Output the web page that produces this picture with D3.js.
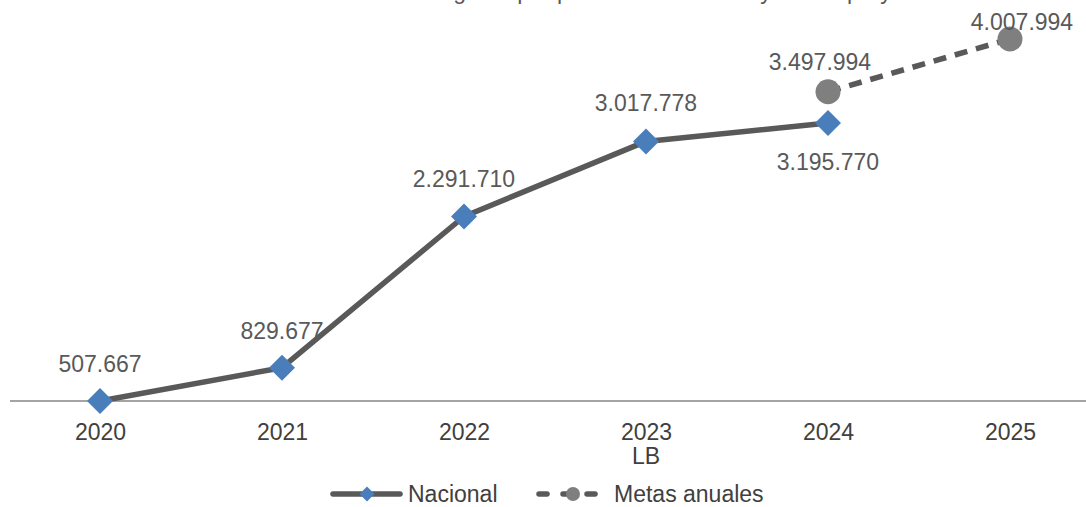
<!DOCTYPE html>
<html>
<head>
<meta charset="utf-8">
<script src="https://cdn.jsdelivr.net/npm/d3@7"></script>
<style>
  html, body { margin: 0; padding: 0; background: #fff; }
  svg { display: block; font-family: "Liberation Sans", Arial, sans-serif; }
</style>
</head>
<body>
<svg id="chart" width="1086" height="507"></svg>
<script>
const categories = ["2020", "2021", "2022", "2023", "2024", "2025"];
const subLabels = ["", "", "", "LB", "", ""];
const nacional = [507667, 829677, 2291710, 3017778, 3195770, null];
const metas = [null, null, null, null, 3497994, 4007994];
const titleText = "Número de hogares por período: línea base y metas proyectadas";

const W = 1086, H = 507;
const svg = d3.select("#chart");
const fmt = v => d3.format(",")(v).replace(/,/g, ".");

const x = d3.scalePoint().domain(categories).range([100, 1010]);
const y = d3.scaleLinear().domain([507667, 4007994]).range([401, 39]);

// clipped title
svg.append("text").attr("x", 640).attr("y", -1).attr("text-anchor", "middle")
  .attr("font-size", 23).attr("fill", "#595959").text(titleText);

// axis line
svg.append("line").attr("x1", 10).attr("x2", W).attr("y1", 401).attr("y2", 401)
  .attr("stroke", "#868686").attr("stroke-width", 1.5);

// x tick labels
const xAxis = d3.axisBottom(x).tickSize(0).tickPadding(0);
const gx = svg.append("g").attr("transform", "translate(0,0)").call(xAxis);
gx.select(".domain").remove();
gx.selectAll("text").attr("y", 440).attr("dy", null).attr("font-size", 23)
  .attr("fill", "#404040").attr("font-family", "Liberation Sans, Arial, sans-serif");
svg.selectAll(".sublab").data(categories.map((c, i) => [c, subLabels[i]]).filter(d => d[1]))
  .enter().append("text").attr("x", d => x(d[0])).attr("y", 464)
  .attr("text-anchor", "middle").attr("font-size", 23).attr("fill", "#404040").text(d => d[1]);

// lines
const nacData = categories.map((c, i) => ({c, v: nacional[i]})).filter(d => d.v != null);
const metData = categories.map((c, i) => ({c, v: metas[i]})).filter(d => d.v != null);
const line = d3.line().x(d => x(d.c)).y(d => y(d.v));

svg.append("path").datum(nacData).attr("d", line).attr("fill", "none")
  .attr("stroke", "#595959").attr("stroke-width", 5.5).attr("stroke-linejoin", "round");
svg.append("path").datum(metData).attr("d", line).attr("fill", "none")
  .attr("stroke", "#595959").attr("stroke-width", 5.5).attr("stroke-dasharray", "13,9");

// markers
const diamond = (cx, cy, r) => `M${cx},${cy - r}L${cx + r},${cy}L${cx},${cy + r}L${cx - r},${cy}Z`;
svg.selectAll(".dm").data(nacData).enter().append("path")
  .attr("d", d => diamond(x(d.c), y(d.v), 13)).attr("fill", "#4A7EBB");
svg.selectAll(".ci").data(metData).enter().append("circle")
  .attr("cx", d => x(d.c)).attr("cy", d => y(d.v)).attr("r", 12.5).attr("fill", "#7F7F7F");

// labels
const nacOffsets = [[0, -29], [0, -29], [0, -29], [0, -30], [0, 47]];
svg.selectAll(".nl").data(nacData).enter().append("text")
  .attr("x", (d, i) => x(d.c) + nacOffsets[i][0]).attr("y", (d, i) => y(d.v) + nacOffsets[i][1])
  .attr("text-anchor", "middle").attr("font-size", 23).attr("fill", "#595959").text(d => fmt(d.v));
const metOffsets = [[-8, -22], [12, -9]];
svg.selectAll(".ml").data(metData).enter().append("text")
  .attr("x", (d, i) => x(d.c) + metOffsets[i][0]).attr("y", (d, i) => y(d.v) + metOffsets[i][1])
  .attr("text-anchor", "middle").attr("font-size", 23).attr("fill", "#595959").text(d => fmt(d.v));

// legend
const lg = svg.append("g");
lg.append("line").attr("x1", 333).attr("x2", 400).attr("y1", 494).attr("y2", 494)
  .attr("stroke", "#595959").attr("stroke-width", 5.5).attr("stroke-linecap", "round");
lg.append("path").attr("d", diamond(367, 494, 7.5)).attr("fill", "#4A7EBB");
lg.append("text").attr("x", 408).attr("y", 502).attr("font-size", 23).attr("fill", "#404040").text("Nacional");
lg.append("line").attr("x1", 539).attr("x2", 600).attr("y1", 494).attr("y2", 494)
  .attr("stroke", "#595959").attr("stroke-width", 5.5).attr("stroke-linecap", "round")
  .attr("stroke-dasharray", "8,16");
lg.append("circle").attr("cx", 573).attr("cy", 494).attr("r", 7).attr("fill", "#7F7F7F");
lg.append("text").attr("x", 614).attr("y", 502).attr("font-size", 23).attr("fill", "#404040").text("Metas anuales");
</script>
</body>
</html>
